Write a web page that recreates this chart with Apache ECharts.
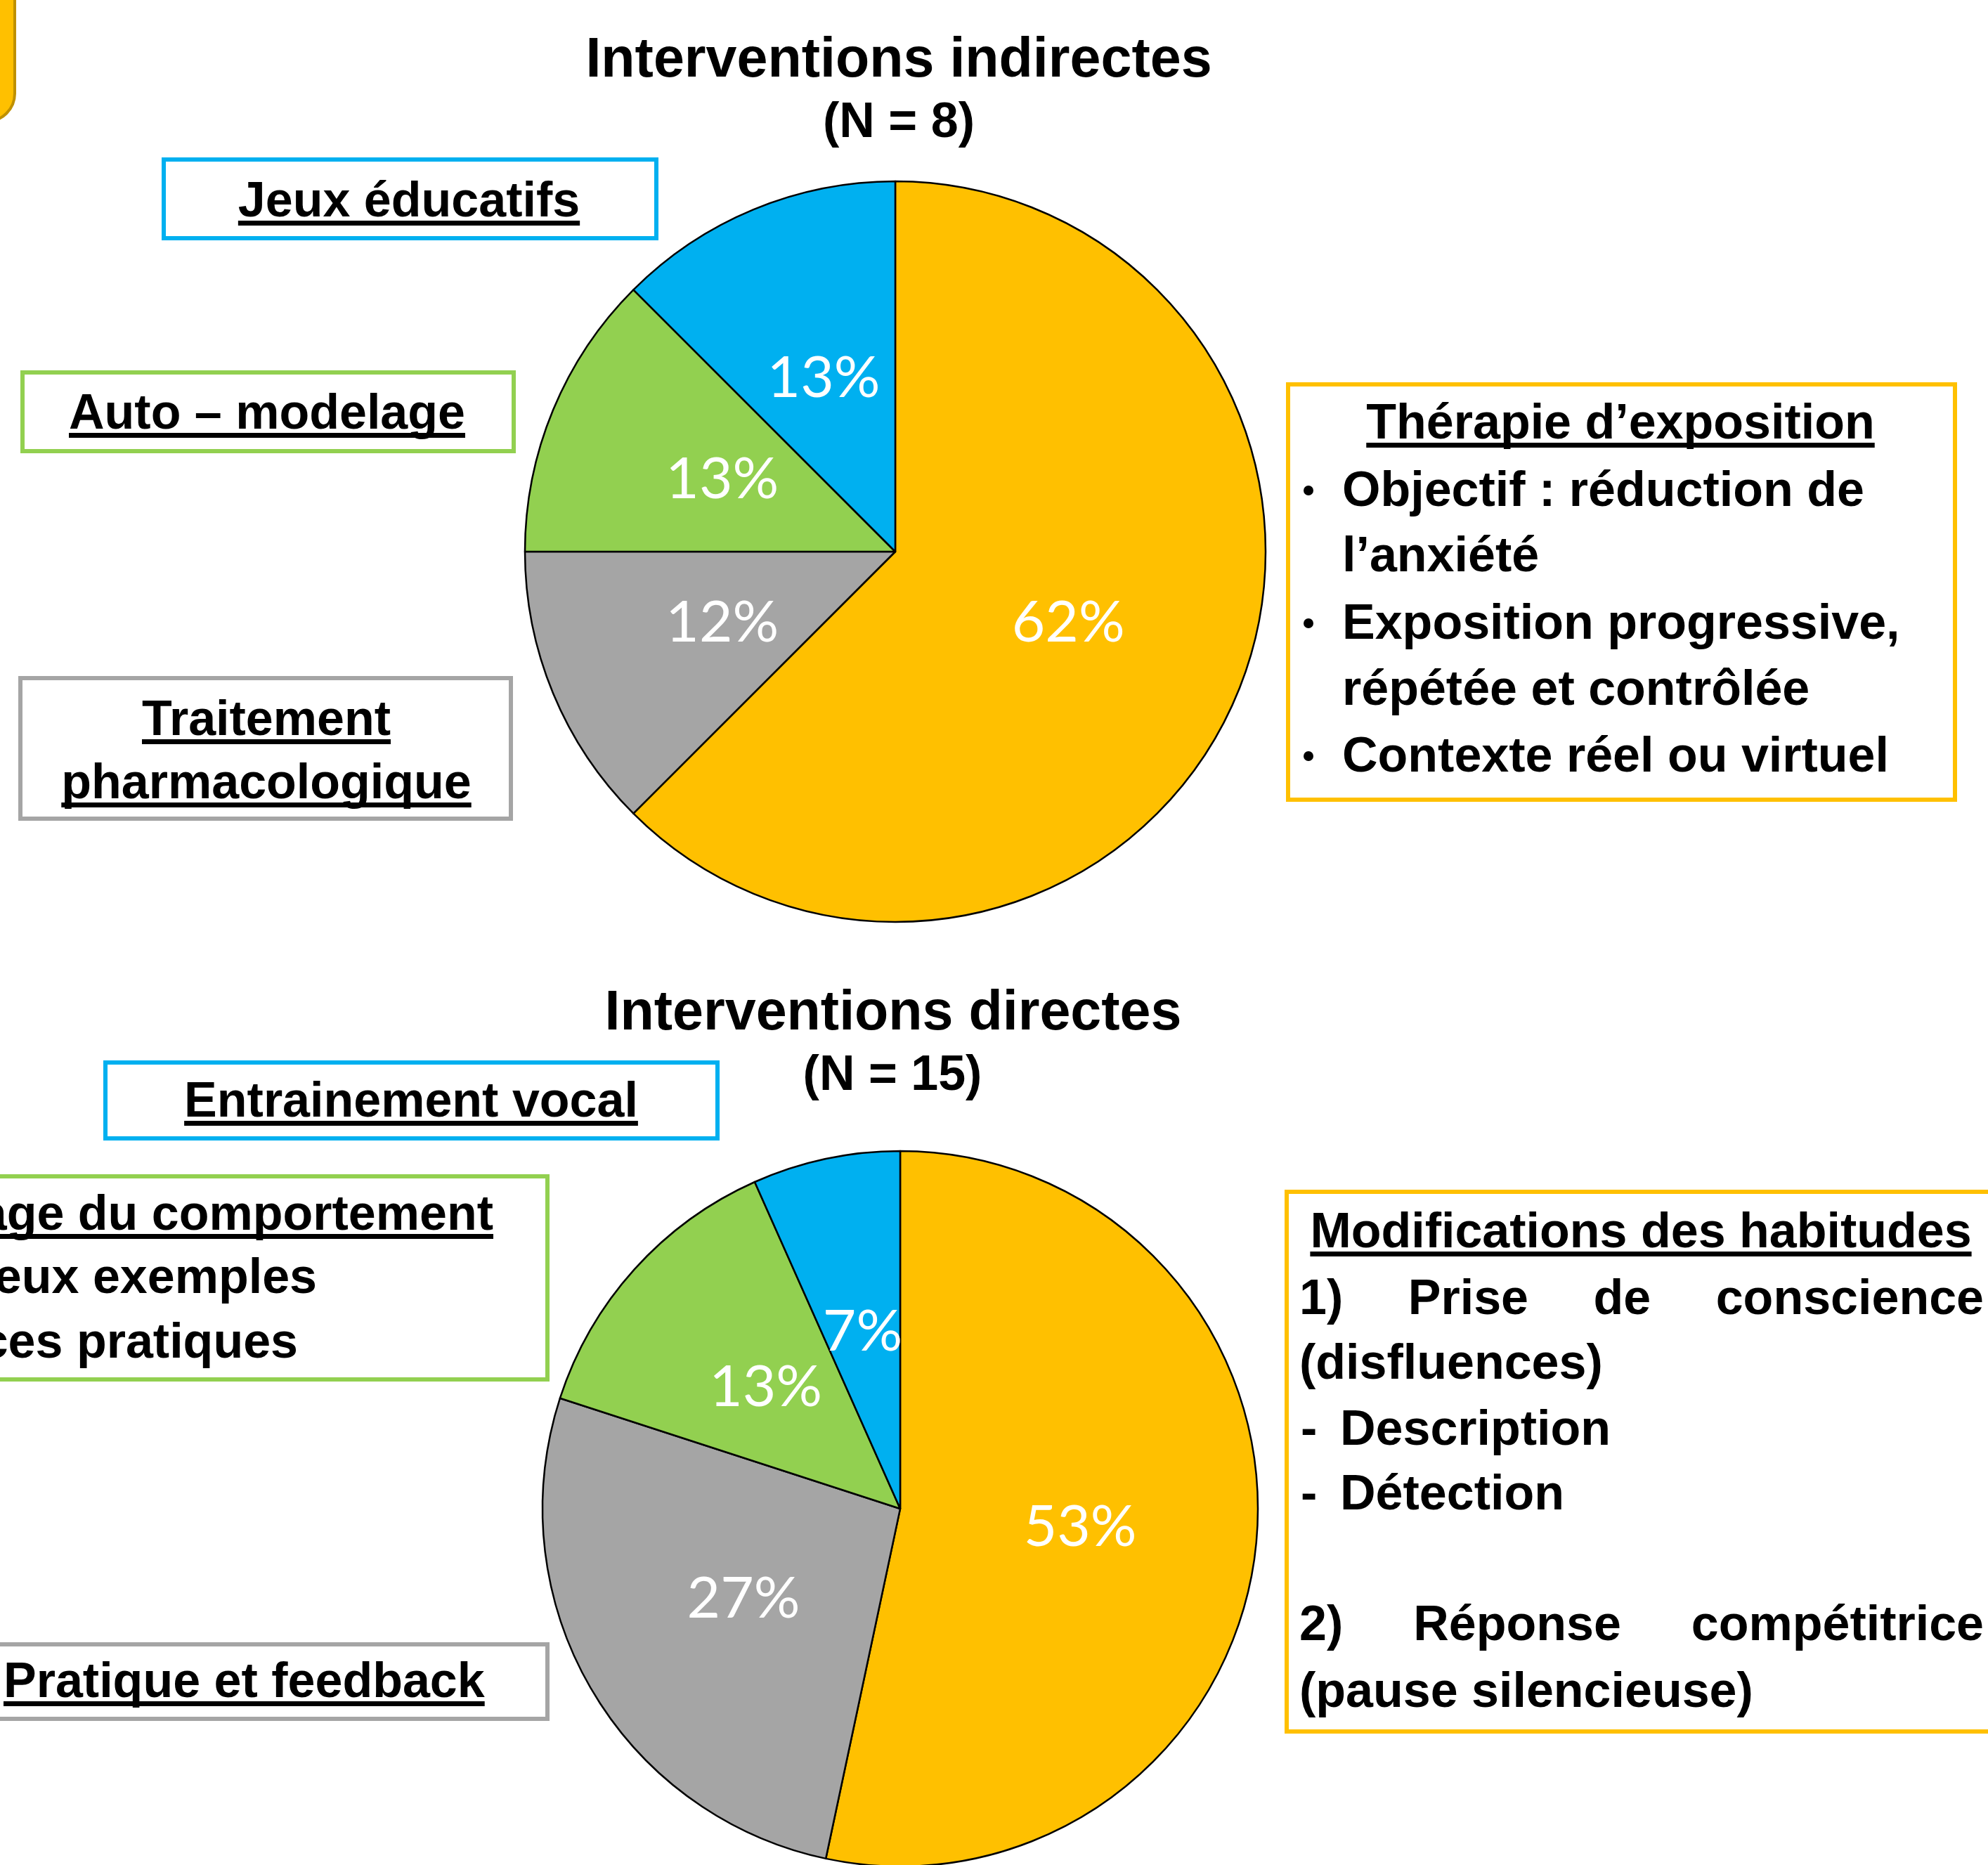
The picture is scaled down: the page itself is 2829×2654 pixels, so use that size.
<!DOCTYPE html>
<html>
<head>
<meta charset="utf-8">
<script src="https://cdn.jsdelivr.net/npm/echarts@6/dist/echarts.min.js"></script>
<style>
  html, body { margin: 0; padding: 0; background: #fff; }
  #chart { width: 2829px; height: 2654px; }
</style>
</head>
<body>
<div id="chart"></div>
<script>
// interventions indirectes (N = 8)
var indirectNames = ["Thérapie d’exposition", "Traitement pharmacologique", "Auto – modelage", "Jeux éducatifs"];
var indirectCounts = [5, 1, 1, 1];
var indirectPct = ["62%", "12%", "13%", "13%"];

// interventions directes (N = 15)
var directNames = ["Modifications des habitudes", "Pratique et feedback", "Modelage du comportement", "Entrainement vocal"];
var directCounts = [8, 4, 2, 1];
var directPct = ["53%", "27%", "13%", "7%"];

var sliceColors = ["#FFC000", "#A5A5A5", "#92D050", "#00B0F0"];

var FONT = '"Liberation Sans", Arial, sans-serif';
var measureCtx = document.createElement('canvas').getContext('2d');
function textW(s, fs) {
  measureCtx.font = 'bold ' + fs + 'px ' + FONT;
  return measureCtx.measureText(s).width;
}

var elements = [];

// text placed on its baseline
function addText(s, x, base, fs, align, underline) {
  elements.push({
    type: 'text',
    x: x,
    y: base - 0.31 * fs,
    style: {
      text: s,
      font: 'bold ' + fs + 'px ' + FONT,
      fill: '#000',
      align: align, textAlign: align,
      verticalAlign: 'middle', textVerticalAlign: 'middle'
    }
  });
  if (underline) {
    var w = textW(s, fs);
    var x0 = align === 'center' ? x - w / 2 : (align === 'right' ? x - w : x);
    elements.push({
      type: 'rect',
      shape: { x: x0, y: base + 4, width: w, height: 7 },
      style: { fill: '#000' }
    });
  }
}

function addJustified(words, left, right, base, fs) {
  var ws = words.map(function (w) { return textW(w, fs); });
  var total = ws.reduce(function (a, b) { return a + b; }, 0);
  var gap = (right - left - total) / (words.length - 1);
  var x = left;
  words.forEach(function (w, i) {
    addText(w, x, base, fs, 'left', false);
    x += ws[i] + gap;
  });
}

function addBox(x0, y0, x1, y1, color) {
  elements.push({
    type: 'rect',
    shape: { x: x0, y: y0, width: x1 - x0, height: y1 - y0 },
    style: { fill: 'rgba(0,0,0,0)', stroke: color, lineWidth: 6 }
  });
}

function addBullet(x, base) {
  elements.push({
    type: 'circle',
    shape: { cx: x, cy: base - 24, r: 7 },
    style: { fill: '#000' }
  });
}

// bout de forme jaune en haut à gauche
elements.push({
  type: 'rect',
  shape: { x: -200, y: -200, width: 221, height: 373, r: 40 },
  style: { fill: '#FFC000', stroke: '#BF9000', lineWidth: 4 }
});

// titres
addText('Interventions indirectes', 1279, 112, 79, 'center', false);
addText('(N = 8)', 1279, 197, 70, 'center', false);
addText('Interventions directes', 1271, 1468, 79, 'center', false);
addText('(N = 15)', 1270, 1553, 70, 'center', false);

// encadrés du haut
addBox(233, 227, 934, 339, sliceColors[3]);
addText(indirectNames[3], 582, 310, 70, 'center', true);

addBox(32, 530, 731, 642, sliceColors[2]);
addText(indirectNames[2], 380, 612, 70, 'center', true);

addBox(29, 965, 727, 1165, sliceColors[1]);
addText('Traitement', 379, 1048, 70, 'center', true);
addText('pharmacologique', 379, 1138, 70, 'center', true);

addBox(1833, 547, 2782, 1138, sliceColors[0]);
addText(indirectNames[0], 2306, 626, 70, 'center', true);
addBullet(1862, 722);
addText('Objectif : réduction de', 1910, 722, 70, 'left', false);
addText('l’anxiété', 1910, 815, 70, 'left', false);
addBullet(1862, 911);
addText('Exposition progressive,', 1910, 911, 70, 'left', false);
addText('répétée et contrôlée', 1910, 1005, 70, 'left', false);
addBullet(1862, 1100);
addText('Contexte réel ou virtuel', 1910, 1100, 70, 'left', false);

// encadrés du bas
addBox(150, 1512, 1021, 1620, sliceColors[3]);
addText(directNames[3], 585, 1591, 70, 'center', true);

addBox(-20, 1674, 779, 1963, sliceColors[2]);
addText(directNames[2], 702, 1752, 70, 'right', true);
addText('Deux exemples', 451, 1842, 70, 'right', false);
addText('Exercices pratiques', 424, 1934, 70, 'right', false);

addBox(-20, 2340, 779, 2446, sliceColors[1]);
addText(directNames[1], 5, 2417, 70, 'left', true);

addBox(1831, 1696, 2860, 2464, sliceColors[0]);
addText(directNames[0], 2335, 1777, 70, 'center', true);
addJustified(['1)', 'Prise', 'de', 'conscience'], 1849, 2823, 1872, 70);
addText('(disfluences)', 1849, 1964, 70, 'left', false);
addText('-', 1851, 2058, 70, 'left', false);
addText('Description', 1907, 2058, 70, 'left', false);
addText('-', 1851, 2150, 70, 'left', false);
addText('Détection', 1907, 2150, 70, 'left', false);
addJustified(['2)', 'Réponse', 'compétitrice'], 1849, 2823, 2336, 70);
addText('(pause silencieuse)', 1849, 2431, 70, 'left', false);

function pieSeries(names, counts, pct, center, radius) {
  return {
    type: 'pie',
    center: center,
    radius: radius,
    startAngle: 90,
    clockwise: true,
    silent: true,
    data: names.map(function (n, i) {
      return { name: n, value: counts[i], itemStyle: { color: sliceColors[i] } };
    }),
    itemStyle: { borderColor: '#000', borderWidth: 2.5 },
    label: {
      show: true,
      position: 'inside',
      formatter: function (p) { return pct[p.dataIndex]; },
      color: '#fff',
      fontFamily: 'Lato',
      fontSize: 82
    },
    labelLine: { show: false },
    emphasis: { disabled: true }
  };
}

var myChart = echarts.init(document.getElementById('chart'));
var option = {
  backgroundColor: '#fff',
  animation: false,
  graphic: { elements: elements },
  series: [
    pieSeries(indirectNames, indirectCounts, indirectPct, [1274, 785], 527),
    pieSeries(directNames, directCounts, directPct, [1281, 2147], 509)
  ]
};
myChart.setOption(option);
window.addEventListener('resize', function () { myChart.resize(); });
</script>
</body>
</html>
